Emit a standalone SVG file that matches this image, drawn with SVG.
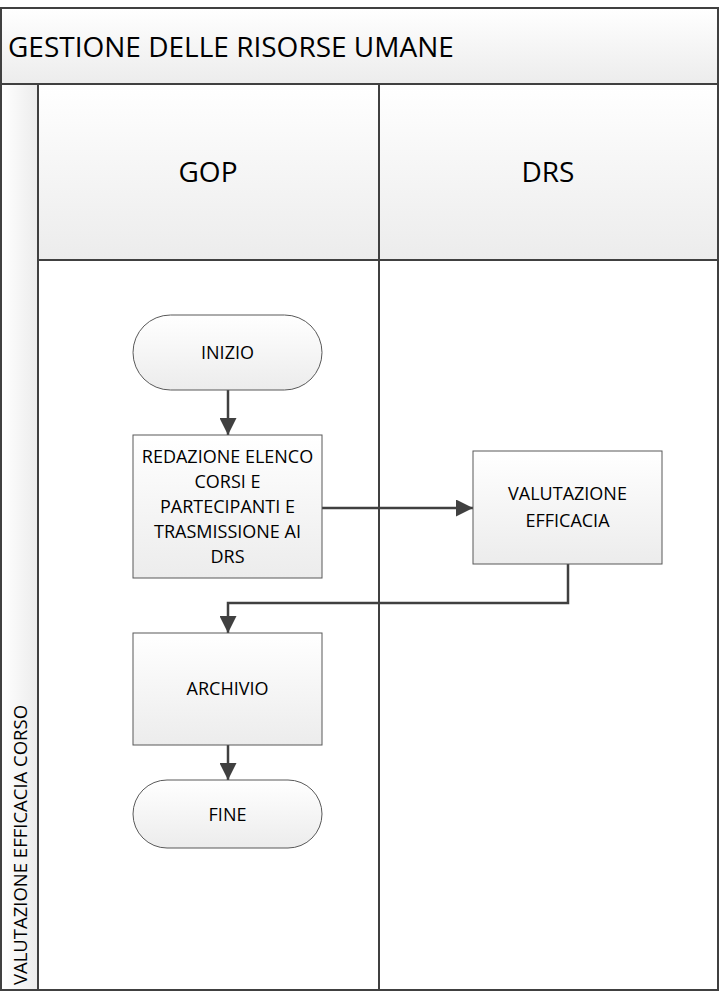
<svg xmlns="http://www.w3.org/2000/svg" width="719" height="992" viewBox="0 0 719 992">
<defs>
<linearGradient id="gv" x1="0" y1="0" x2="0" y2="1"><stop offset="0" stop-color="#ffffff"/><stop offset="1" stop-color="#ececec"/></linearGradient>
<linearGradient id="gh" x1="0" y1="0" x2="1" y2="0"><stop offset="0" stop-color="#ffffff"/><stop offset="1" stop-color="#ececec"/></linearGradient>
<style>
.frame{fill:none;stroke:#404040;stroke-width:2}
.node{fill:url(#gv);stroke:#595959;stroke-width:1}
.t{font-family:"Open Sans","Noto Sans",sans-serif;fill:#000;text-anchor:middle}
.n{font-size:18px}
.conn{fill:none;stroke:#404040;stroke-width:2.5}
</style>
<marker id="arr" viewBox="0 0 16 16" refX="16" refY="8" markerWidth="20" markerHeight="17" markerUnits="userSpaceOnUse" orient="auto"><path d="M0,0 L16,8 L0,16 Z" fill="#404040"/></marker>
</defs>
<g id="pool">
<rect x="1" y="8" width="717" height="76" fill="url(#gv)"/>
<rect x="1" y="84" width="37" height="906" fill="url(#gh)"/>
<rect x="38" y="84" width="341" height="176" fill="url(#gv)"/>
<rect x="379" y="84" width="339" height="176" fill="url(#gv)"/>
<rect x="1" y="8" width="717" height="982" class="frame"/>
<line x1="1" y1="84" x2="718" y2="84" class="frame" stroke-width="2.5"/>
<line x1="38" y1="84" x2="38" y2="990" class="frame"/>
<line x1="379" y1="84" x2="379" y2="990" class="frame"/>
<line x1="38" y1="260" x2="718" y2="260" class="frame"/>
<text x="8" y="57" class="t" style="text-anchor:start;font-size:28px">GESTIONE DELLE RISORSE UMANE</text>
<text x="208" y="182" class="t" style="font-size:28px">GOP</text>
<text x="548" y="182" class="t" style="font-size:28px">DRS</text>
<text transform="translate(27,845) rotate(-90)" class="t" style="font-size:18.5px">VALUTAZIONE EFFICACIA CORSO</text>
</g>
<g id="connectors">
<line x1="228" y1="390" x2="228" y2="435" class="conn" marker-end="url(#arr)"/>
<line x1="322" y1="508" x2="473" y2="508" class="conn" marker-end="url(#arr)"/>
<polyline points="568,564 568,603 228,603 228,633" class="conn" marker-end="url(#arr)"/>
<line x1="228" y1="745" x2="228" y2="780" class="conn" marker-end="url(#arr)"/>
</g>
<g id="inizio">
<rect x="133" y="315" width="189" height="75" rx="37.5" class="node"/>
<text x="227.5" y="359" class="t n">INIZIO</text>
</g>
<g id="redazione">
<rect x="133" y="435" width="189" height="143" class="node"/>
<text class="t n"><tspan x="227.5" y="463">REDAZIONE ELENCO</tspan><tspan x="227.5" y="488">CORSI E</tspan><tspan x="227.5" y="513">PARTECIPANTI E</tspan><tspan x="227.5" y="538">TRASMISSIONE AI</tspan><tspan x="227.5" y="563">DRS</tspan></text>
</g>
<g id="valutazione">
<rect x="473" y="451" width="189" height="113" class="node"/>
<text class="t n"><tspan x="567.5" y="500">VALUTAZIONE</tspan><tspan x="567.5" y="527">EFFICACIA</tspan></text>
</g>
<g id="archivio">
<rect x="133" y="633" width="189" height="112" class="node"/>
<text x="227.5" y="695" class="t n">ARCHIVIO</text>
</g>
<g id="fine">
<rect x="133" y="780" width="189" height="68" rx="34" class="node"/>
<text x="227.5" y="821" class="t n">FINE</text>
</g>
</svg>
